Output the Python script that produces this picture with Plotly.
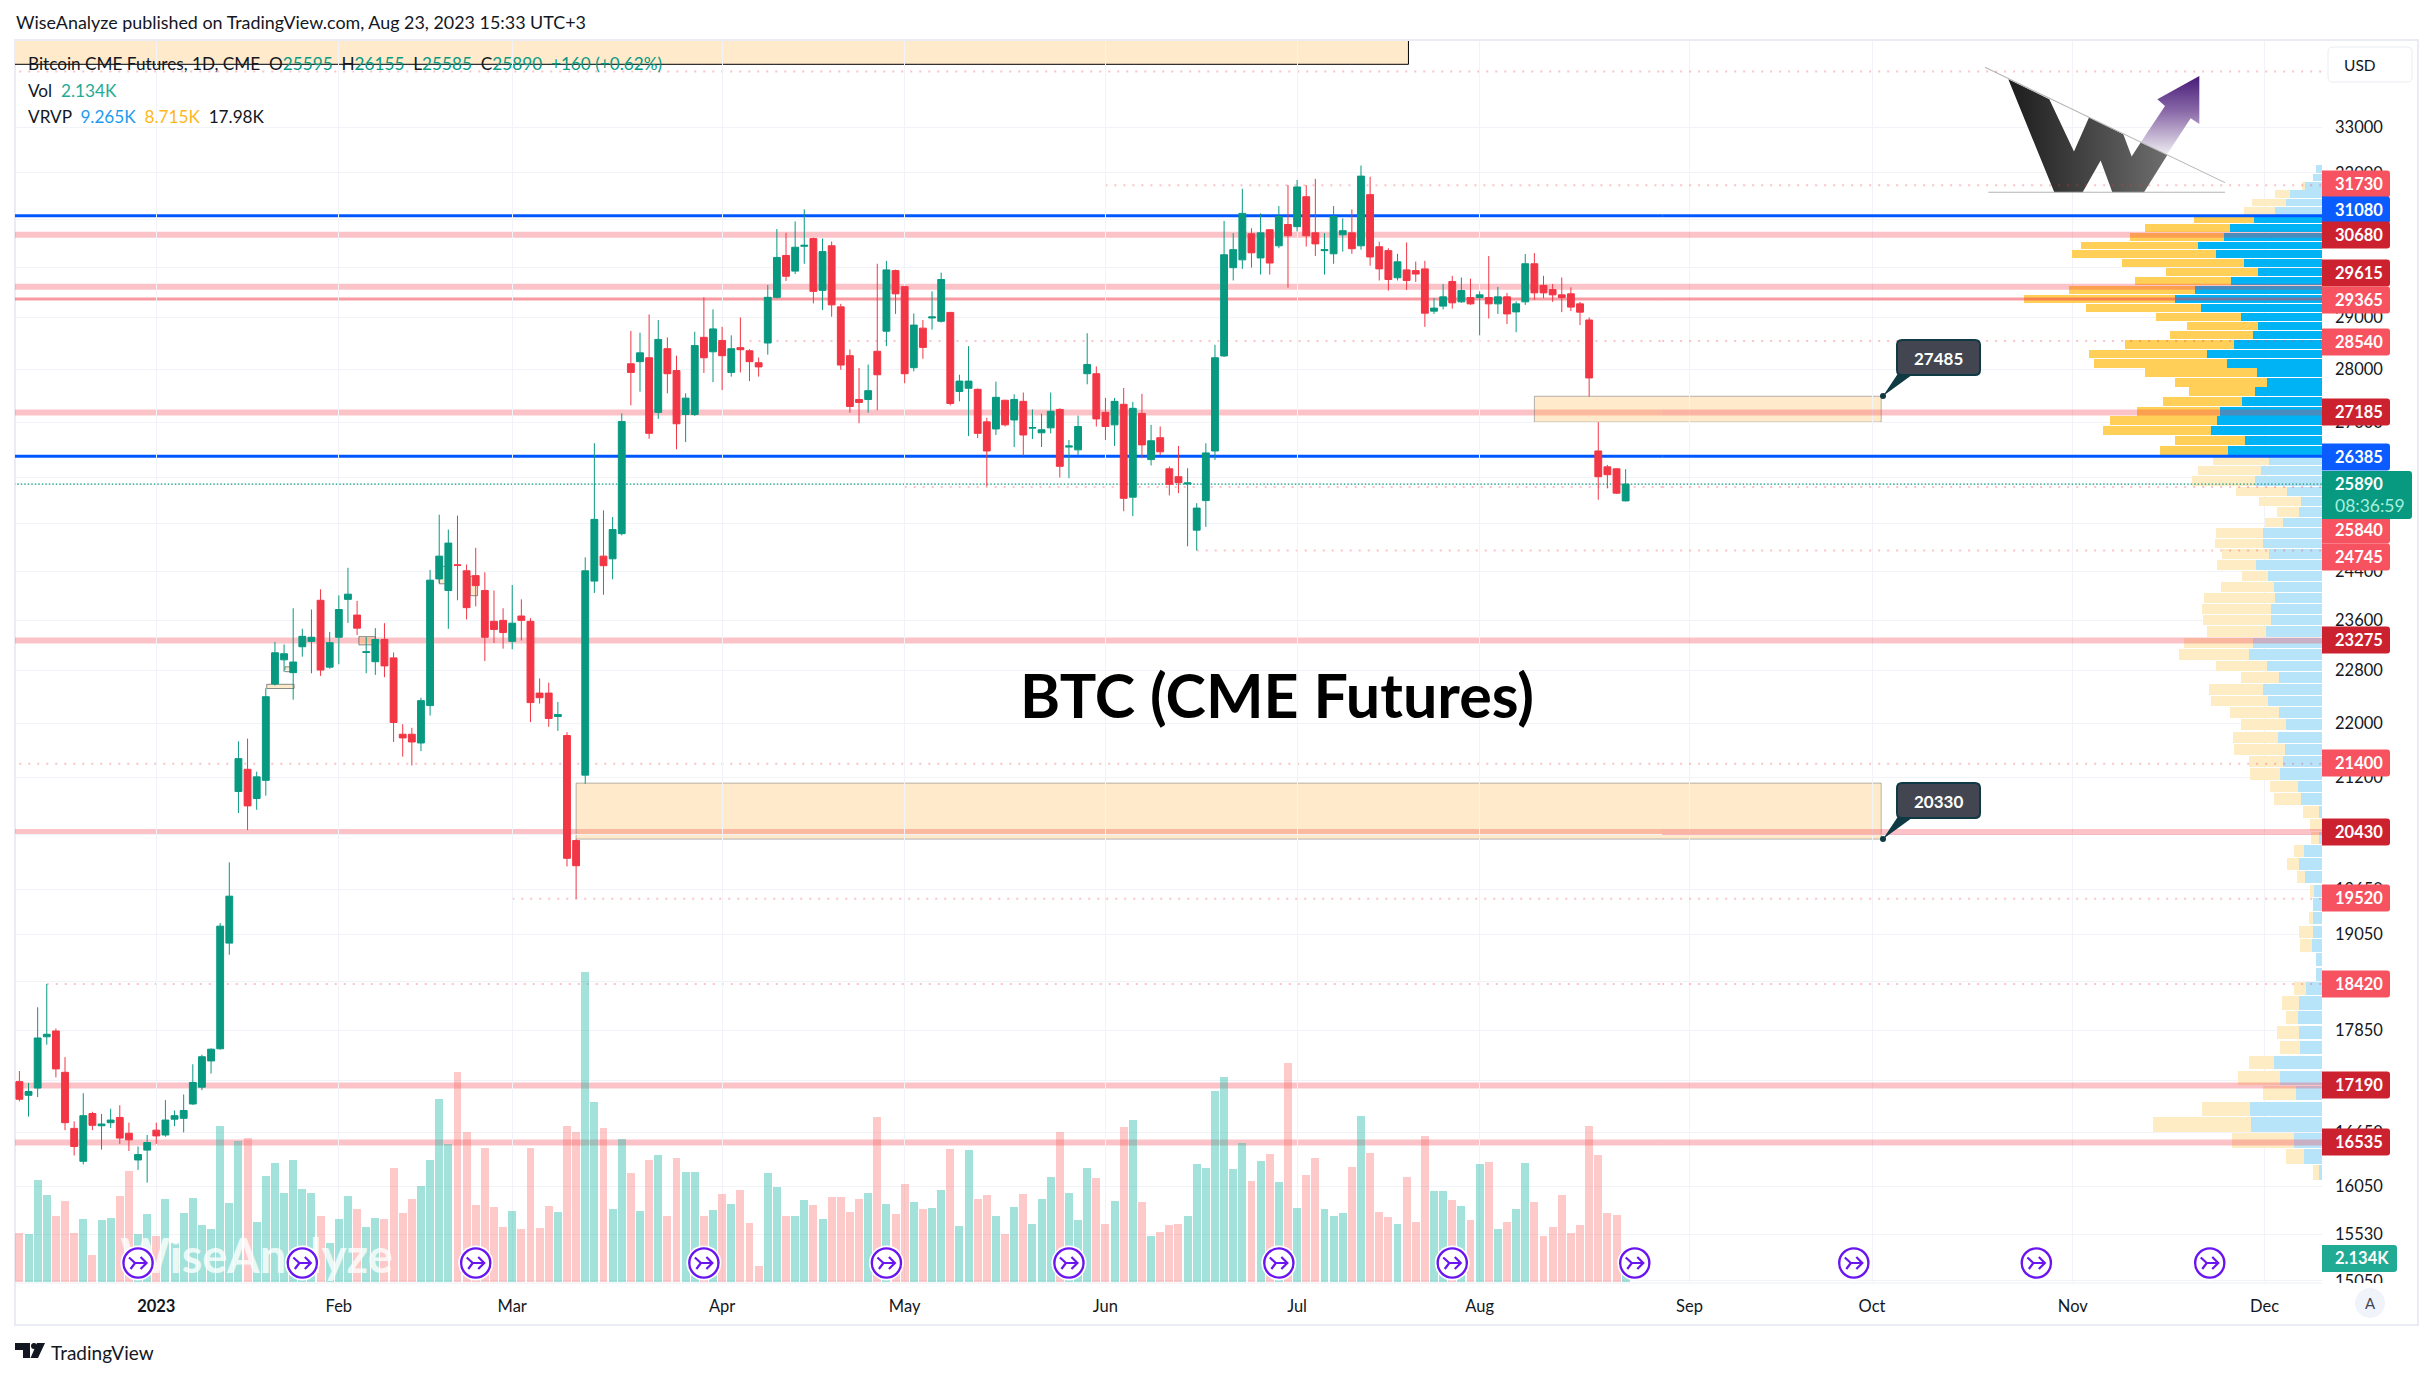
import base64
import math
import plotly.graph_objects as go

# --- chart values ---
bars_open = [17235,17075,17160,17770,17840,17345,16695,16325,16865,16725,16760,16820,16640,16340,16450,16675,16620,16800,16810,16975,17170,17480,17625,18940,21000,21320,20900,21160,22595,22970,22770,23175,23260,23920,22855,23325,23935,23680,23085,22940,23290,23000,21835,21835,21705,22265,24270,24080,24505,24405,24325,24080,23580,23595,23260,23665,23580,22455,22455,22100,21815,20310,21235,24235,24650,24605,25030,28100,28140,28215,27185,28390,27970,27145,27145,28610,28330,28550,27935,28410,28350,28120,28500,29400,30250,29930,30440,30600,29540,30450,29210,28255,27425,27425,28340,28730,29940,29615,28025,28790,28990,28925,29100,27575,27635,27615,27010,26880,27410,27045,27390,26895,26810,26900,27240,26550,26500,27910,27910,27185,26955,27335,25660,27165,26325,26720,26160,26020,25890,25090,25600,26480,28250,30000,30160,30700,30200,30785,30450,30895,30850,31485,30720,30350,30285,30680,30720,30450,31530,30430,30350,29795,29955,29940,29975,29125,29225,29720,29310,29395,29395,29395,29270,29410,29110,29310,30080,29640,29555,29450,29470,29270,28950,26480,26195,26160,25595]
bars_high = [17360,17220,18130,18420,17870,17525,16775,17100,16885,16860,16920,16960,16760,16490,16620,16760,17020,16900,17085,17440,17555,17630,19200,20010,21730,21770,21285,22530,23250,23210,23790,23460,23770,24100,23410,24000,24455,23910,23330,23470,23550,23085,21985,21930,22385,24420,25355,25100,25340,24510,24790,24380,24080,23790,24170,23935,23630,22680,22615,22320,21865,20330,24630,26620,25430,25315,27165,28735,28700,29060,28950,28610,28255,27540,28720,29400,29160,28815,28650,29000,28380,28220,29650,30800,30720,30960,31215,30620,30600,30540,29270,28375,28020,28085,30080,30140,29960,29630,29080,28950,29520,29900,29110,27890,28440,27630,27085,27760,27420,27520,27555,27240,27160,27555,27260,26680,27125,28690,28050,27455,27455,27640,27380,27530,26955,26925,26200,26570,26170,25555,26620,28465,30970,30715,31655,30815,31130,30800,31285,31735,31845,31735,31870,30715,31285,31025,31215,32160,31915,30535,30400,30285,30520,30125,30140,29385,29670,29835,29800,29775,29520,30240,29610,29490,29320,30280,30300,29835,29670,29800,29600,29310,29000,27005,26230,26170,26155]
bars_low = [17005,16830,17055,17675,17285,16675,16390,16290,16675,16455,16700,16520,16440,16230,16090,16520,16600,16720,16650,16965,17135,17330,17615,18790,20695,20455,20740,20940,22570,22785,22355,23020,22760,22720,22830,22900,23555,23360,22760,22735,22700,21720,21505,21375,21585,22115,24200,23460,23920,23610,23820,22950,23235,23145,23135,23275,22015,22295,21945,21885,19955,19520,21110,24040,24010,24265,25000,27315,27570,26700,27065,27540,26510,26640,27120,27925,27750,27600,27855,27935,27770,27855,28275,29380,29730,29870,30080,29280,29150,29015,27985,27180,26985,27180,27225,28440,29070,27730,27955,28195,28760,28900,27315,27390,26750,26715,25850,26770,26925,26550,26390,26695,26550,26800,26005,25995,26410,27710,26925,26680,26570,25415,25330,26350,26220,26405,25690,25730,24815,24745,25145,26320,28230,29740,29975,30000,29860,29860,30400,29595,30750,30435,30240,29860,30080,30330,30285,30370,30040,29740,29535,29740,29550,29710,28815,29070,29160,29175,29290,29250,28650,28980,29070,28870,28710,29250,29350,29385,29310,29105,29125,28850,27480,25615,25815,25715,25585]
bars_close = [17030,17120,17755,17800,17385,16760,16490,16840,16730,16745,16790,16585,16565,16400,16535,16610,16790,16840,16900,17225,17530,17620,19160,19555,21475,20795,21210,22400,23080,23065,22935,23340,23325,22810,23240,23770,24020,23470,23095,23290,22875,22010,21780,21720,22340,24250,24650,24870,24495,23800,24160,23325,23450,23400,23550,23595,22310,22385,22070,22130,20066,19965,24405,25275,24490,25100,27015,27935,28310,26800,28570,27910,26975,27450,28450,28215,28775,28255,28390,28370,28140,28040,29400,30210,29825,30420,30460,29520,30330,29250,28075,27295,27370,27590,27890,29955,29470,27910,28850,28415,29010,29760,27350,27770,27770,26800,26480,27465,26955,27425,26770,26905,26865,27205,26205,26570,26925,28085,27065,26925,27390,25640,27260,26590,26665,26465,25885,25915,25910,25470,26445,28215,30265,30370,31130,30305,30720,30095,31065,30660,31695,30660,30490,30370,31065,30765,30390,31930,30220,29975,29760,30120,29740,29870,29085,29185,29410,29290,29535,29270,29450,29270,29410,29070,29270,30080,29490,29490,29450,29395,29205,29105,27830,26020,26055,25730,25890]
bars_volume = [4320,4175,8900,7590,5780,7070,4320,5490,2335,5430,5580,7500,9695,4175,5930,4000,7240,3390,6015,7330,4965,4615,13635,6890,12320,12640,5255,9255,10395,7765,10660,8120,7765,5750,3445,5490,7505,6365,4790,5580,5490,9955,6015,7240,8380,10660,16000,12060,18365,13110,6715,11710,6540,4790,6190,4615,11710,4700,6630,6100,13635,13110,27155,15740,13460,6365,12500,9520,6190,10660,11095,5750,10830,9605,9605,5750,6280,7680,6800,8030,5140,1370,9520,8290,5750,5750,7155,6715,5490,7415,7415,6100,7240,7765,14425,6805,5930,8555,6980,6365,6455,8030,11620,4875,11535,7240,7590,5750,4175,6540,7680,5050,7240,9170,13110,7765,5400,9955,9080,5050,7065,13550,14160,6980,4000,4350,4965,5050,5750,10310,9955,16700,17930,9870,12150,8820,10570,11185,8730,19155,6455,9345,10835,6365,5750,6015,10045,14510,11270,6100,5665,5050,9170,5225,12760,7940,7940,7155,6630,5400,10310,10485,4615,5225,6365,10395,6980,4000,4790,7590,4265,4965,13635,11095,6075,5840,2134]

# volume profile rows, top to bottom
vrvp_price = [32082,31901,31721,31540,31360,31179,30999,30818,30638,30457,30277,30096,29916,29735,29555,29374,29194,29013,28833,28652,28472,28291,28111,27930,27750,27569,27389,27208,27028,26847,26667,26486,26306,26125,25945,25764,25584,25403,25223,25042,24862,24681,24501,24320,24140,23959,23779,23598,23418,23237,23057,22876,22696,22515,22335,22154,21974,21793,21613,21432,21252,21071,20891,20710,20530,20349,20169,19988,19808,19627,19447,19266,19086,18905,18725,18544,18364,18183,18003,17822,17642,17461,17281,17100,16920,16739,16559,16378,16198]
vrvp_up = [880,1205,2365,4450,5005,6535,9450,12790,13620,17235,14735,10840,8850,12650,17650,20430,16820,11260,8850,9590,12230,15985,13205,9035,7645,9310,11120,14180,14595,15430,10700,13065,7325,8480,9265,4865,2875,3200,5420,8200,8200,7365,9175,7505,6670,6535,7090,7090,7785,9590,10150,7645,5975,8200,7505,5975,5005,6115,5145,5420,5840,3335,2920,415,0,415,2500,3195,2365,1110,1250,1250,1250,1390,835,835,2225,3195,3335,3195,3060,6670,5840,3615,10010,9870,3890,2500,415]
vrvp_down = [0,0,370,2085,4770,4310,8340,11815,13070,16265,20015,16960,12830,13345,17515,20850,15985,11815,9870,11535,15150,16400,18485,15570,12790,9175,10980,11535,14875,15010,9730,9450,7785,8660,8715,7090,5880,3060,2460,6535,6625,6535,5420,3615,7365,9870,9590,9450,8200,9590,9690,7090,5280,7505,7925,6810,6255,6210,7045,4725,4170,3850,3755,2225,1670,1110,1390,1670,1110,555,0,555,1945,1670,0,0,1625,2365,1670,3060,2780,3475,5840,4585,6625,13620,8620,2500,835]

thick_levels = [30680, 29615, 27185, 23275, 20430, 17190, 16535]
mid_levels = [29365]
blue_levels = [31080, 26385]
dotted_levels = [34290, 31730, 28540, 25840, 24745, 21400, 19520, 18420]
dotted_start_bars = [-1, 119, 80, 97, 129, -1, 54, 3]
last_price = 25890

zones_big = [(166, 204, 27485, 27005), (61, 204, 21120, 20330)]
zones_small = [(27.1, 30.1, 22590, 22525), (29.1, 30.1, 22860, 22785), (37.2, 39, 23335, 23205), (46, 47, 24480, 24190), (49.4, 50.2, 24315, 23995)]

event_bars = [13, 31, 50, 75, 95, 115, 138, 157, 177, 201, 221, 240]
month_bars = [15, 35, 54, 77, 97, 119, 140, 160, 183, 203, 225, 246]
month_labels = ["<b>2023</b>", "Feb", "Mar", "Apr", "May", "Jun", "Jul", "Aug", "Sep", "Oct", "Nov", "Dec"]
price_ticks = [33000, 32000, 31000, 30000, 29000, 28000, 27000, 26000, 25200, 24400, 23600, 22800, 22000, 21200, 20400, 19650, 19050, 18450, 17850, 17250, 16650, 16050, 15530, 15050]

FONT = "Lato"
INK = "#131722"
GREEN = "#089981"
RED = "#F23645"
GRID = "#F1F3F8"
LEVEL_SPLIT = 180  # right of the last candle the lines run over the profile

# pane edges in page pixels
LEFT, RIGHT, TOP, BOTTOM = 15, 2322, 41, 1282


def fx(px):
    return (px - LEFT) / (RIGHT - LEFT)


def fy(py):
    return 1 - (py - TOP) / (BOTTOM - TOP)


def rrect(x0, y0, x1, y1, r, fill, line=None, lw=0, left_round=True):
    # rounded box, pixels in, paper coords out
    rl = r if left_round else 0
    p = (f"M{fx(x0 + rl)},{fy(y0)} L{fx(x1 - r)},{fy(y0)} Q{fx(x1)},{fy(y0)} {fx(x1)},{fy(y0 + r)} "
         f"L{fx(x1)},{fy(y1 - r)} Q{fx(x1)},{fy(y1)} {fx(x1 - r)},{fy(y1)} L{fx(x0 + rl)},{fy(y1)} "
         f"Q{fx(x0)},{fy(y1)} {fx(x0)},{fy(y1 - rl)} L{fx(x0)},{fy(y0 + rl)} Q{fx(x0)},{fy(y0)} {fx(x0 + rl)},{fy(y0)} Z")
    return dict(type="path", path=p, xref="paper", yref="paper", fillcolor=fill,
                line=dict(color=line or fill, width=lw), layer="above")


def poly(points, fill):
    p = "M" + " L".join(f"{fx(x)},{fy(y)}" for x, y in points) + " Z"
    return dict(type="path", path=p, xref="paper", yref="paper", fillcolor=fill, line=dict(width=0), layer="above")


def note(px, py, text, size=16, color=INK, anchor="left", family=FONT):
    return dict(x=fx(px), y=fy(py), xref="paper", yref="paper", text=text, showarrow=False,
                xanchor=anchor, yanchor="middle", font=dict(size=size, color=color, family=family))


def svg_uri(svg):
    return "data:image/svg+xml;base64," + base64.b64encode(svg.encode()).decode()


bar_index = list(range(len(bars_close)))
bar_colors = ["rgba(34,185,168,0.42)" if c >= o else "rgba(248,100,100,0.35)" for o, c in zip(bars_open, bars_close)]
in_value_area = [26400 < p < 31100 for p in vrvp_price]

fig = go.Figure()
fig.add_trace(go.Bar(x=bar_index, y=bars_volume, width=0.87, marker=dict(color=bar_colors, line=dict(width=0)),
                     xaxis="x", yaxis="y", hoverinfo="skip", showlegend=False))
fig.add_trace(go.Scatter(x=[26], y=[1810], mode="text", text=["WiseAnalyze"], textposition="middle center",
                         textfont=dict(family=FONT, size=47, color="rgba(255,255,255,0.8)", weight="bold"),
                         xaxis="x", yaxis="y", hoverinfo="skip", showlegend=False))
fig.add_trace(go.Candlestick(x=bar_index, open=bars_open, high=bars_high, low=bars_low, close=bars_close,
                             whiskerwidth=0, xaxis="x", yaxis="y2", showlegend=False, hoverinfo="skip",
                             increasing=dict(line=dict(color=GREEN, width=1), fillcolor=GREEN),
                             decreasing=dict(line=dict(color=RED, width=1), fillcolor=RED)))
fig.add_trace(go.Bar(y=vrvp_price, x=vrvp_up, orientation="h", width=165, xaxis="x2", yaxis="y2", showlegend=False,
                     hoverinfo="skip", marker=dict(color=["#00B3F4" if v else "#B8E4FA" for v in in_value_area], line=dict(width=0))))
fig.add_trace(go.Bar(y=vrvp_price, x=vrvp_down, orientation="h", width=165, xaxis="x2", yaxis="y2", showlegend=False,
                     hoverinfo="skip", marker=dict(color=["#FFCF57" if v else "#FEECC5" for v in in_value_area], line=dict(width=0))))

shapes = []


def level(price, color, width, dash="solid", start=-1):
    # candles stay over the line on the left, the line stays over the profile on the right
    base = dict(type="line", xref="x", yref="y2", y0=price, y1=price, line=dict(color=color, width=width, dash=dash))
    shapes.append(dict(base, x0=start, x1=LEVEL_SPLIT, layer="below"))
    shapes.append(dict(base, x0=LEVEL_SPLIT, x1=253, layer="above"))


for p in thick_levels:
    level(p, "rgba(242,54,69,0.3)", 6)
for p in mid_levels:
    level(p, "rgba(242,54,69,0.5)", 3)
for p in blue_levels:
    level(p, "#0059FF", 3)
for p, s in zip(dotted_levels, dotted_start_bars):
    level(p, "rgba(242,54,69,0.3)", 2, "2px,7px", s)
level(last_price, GREEN, 1.2, "1.5px,2px")

for x0, x1, p0, p1 in zones_big:
    shapes.append(dict(type="rect", xref="x", yref="y2", x0=x0, x1=x1, y0=p0, y1=p1, layer="below",
                       fillcolor="rgba(255,152,0,0.2)", line=dict(color="rgba(120,120,120,0.55)", width=1)))
for x0, x1, p0, p1 in zones_small:
    shapes.append(dict(type="rect", xref="x", yref="y2", x0=x0, x1=x1, y0=p0, y1=p1, layer="below",
                       fillcolor="rgba(255,152,0,0.2)", line=dict(color="rgba(90,90,90,0.7)", width=1)))
# beige box cut off by the top of the pane
shapes.append(dict(type="rect", xref="x", yref="y2", x0=-5, x1=152.2, y0=34456, y1=37000, layer="below",
                   fillcolor="#FFEACC", line=dict(color="#000000", width=1)))

# outer frame
shapes.append(dict(type="rect", xref="paper", yref="paper", x0=fx(15), x1=fx(2418), y0=fy(40), y1=fy(1325),
                   line=dict(color="#E9ECF2", width=2), layer="below"))
shapes.append(dict(type="line", xref="paper", yref="paper", x0=fx(15), x1=fx(2322), y0=fy(1283), y1=fy(1283),
                   line=dict(color="#EEF0F5", width=1), layer="below"))
# the lowest price tick is cut by the time scale
shapes.append(dict(type="rect", xref="paper", yref="paper", x0=fx(2323), x1=fx(2416), y0=fy(1283), y1=fy(1297),
                   fillcolor="#FFFFFF", line=dict(width=0), layer="above"))

# right hand price tags
tag_dark, tag_light, tag_blue = "#CC2230", "#F7525F", "#0A5CFF"
price_tags = [("31730", tag_light, 184), ("31080", tag_blue, 210), ("30680", tag_dark, 235), ("29615", tag_dark, 273),
              ("29365", tag_light, 300), ("28540", tag_light, 342), ("27185", tag_dark, 412), ("26385", tag_blue, 457),
              ("25840", tag_light, 530), ("24745", tag_light, 557), ("23275", tag_dark, 640), ("21400", tag_light, 763),
              ("20430", tag_dark, 832), ("19520", tag_light, 898), ("18420", tag_light, 984), ("17190", tag_dark, 1085),
              ("16535", tag_dark, 1142)]
annotations = []
for text, color, py in price_tags:
    shapes.append(rrect(2322, py - 13.5, 2390, py + 13.5, 3, color, left_round=False))
    annotations.append(note(2333, py, f"<b>{text}</b>", 16.5, "#FFFFFF"))

# last price and volume tags
shapes.append(rrect(2322, 471, 2412, 519, 3, GREEN, left_round=False))
annotations.append(note(2333, 484, "<b>25890</b>", 16.5, "#FFFFFF"))
annotations.append(note(2333, 506, "08:36:59", 17.5, "#A6EFDC"))
shapes.append(rrect(2322, 1245, 2397, 1272, 3, "#22AB94", left_round=False))
annotations.append(note(2333, 1258, "<b>2.134K</b>", 16.5, "#FFFFFF"))

# callouts on the zones
for text, dy in [("27485", 0), ("20330", 443)]:
    shapes.append(poly([(1899, 372 + dy), (1916, 372 + dy), (1883, 396 + dy)], "#0F3A44"))
    shapes.append(rrect(1897, 340 + dy, 1980, 375 + dy, 5, "#434651", "#0F3A44", 2))
    shapes.append(dict(type="circle", xref="paper", yref="paper", x0=fx(1880), x1=fx(1886), y0=fy(393 + dy), y1=fy(399 + dy),
                       fillcolor="#0F3A44", line=dict(width=0), layer="above"))
    annotations.append(note(1938, 358 + dy, f"<b>{text}</b>", 17, "#FFFFFF", "center"))

# USD button and the A button
shapes.append(rrect(2328, 47, 2412, 82, 5, "#FFFFFF", "#E9ECF2", 1))
annotations.append(note(2342, 65, "USD", 15.5))
shapes.append(dict(type="circle", xref="paper", yref="paper", x0=fx(2355), x1=fx(2385), y0=fy(1288), y1=fy(1318),
                   fillcolor="#F0F3FA", line=dict(width=0), layer="above"))
annotations.append(note(2370, 1303, "A", 15, "#434651", "center"))

# header and legend
annotations.append(note(14, 22, "WiseAnalyze published on TradingView.com, Aug 23, 2023 15:33 UTC+3", 17.9))
g = lambda s: f'<span style="color:{GREEN}">{s}</span>'
annotations.append(note(26, 64, "Bitcoin CME Futures, 1D, CME&nbsp;&nbsp;O" + g("25595") + "&nbsp;&nbsp;H" + g("26155")
                        + "&nbsp;&nbsp;L" + g("25585") + "&nbsp;&nbsp;C" + g("25890") + "&nbsp;&nbsp;" + g("+160 (+0.62%)"), 17.2))
annotations.append(note(26, 90, 'Vol&nbsp;&nbsp;<span style="color:#22AB94">2.134K</span>', 17.2))
annotations.append(note(26, 116, 'VRVP&nbsp;&nbsp;<span style="color:#1E9BF0">9.265K</span>&nbsp;&nbsp;'
                        '<span style="color:#FFB71B">8.715K</span>&nbsp;&nbsp;17.98K', 17.2))
annotations.append(note(1277, 694, "<b>BTC (CME Futures)</b>", 61, "#000000", "center"))

# TradingView mark under the chart
shapes.append(poly([(15, 1343), (30, 1343), (30, 1358), (23, 1358), (23, 1350), (15, 1350)], "#131722"))
shapes.append(dict(type="circle", xref="paper", yref="paper", x0=fx(31), x1=fx(37), y0=fy(1343), y1=fy(1349),
                   fillcolor="#131722", line=dict(width=0), layer="above"))
shapes.append(poly([(37, 1343), (45, 1343), (38, 1358), (30.5, 1358)], "#131722"))
annotations.append(note(49, 1352, "TradingView", 19))

# idea markers and the WiseAnalyze logo
icon_svg = ('<svg xmlns="http://www.w3.org/2000/svg" viewBox="0 0 36 36">'
            '<circle cx="18" cy="18" r="17.5" fill="#fff"/>'
            '<circle cx="18" cy="18" r="14.6" fill="#fff" stroke="#6A14F0" stroke-width="2.4"/>'
            '<path d="M9 12.5 L15 18 H26 M20.5 12 L26.5 18 L20.5 24 M15 18 L10.5 24" fill="none" stroke="#6A14F0" stroke-width="2.2"/></svg>')
logo_svg = ('<svg xmlns="http://www.w3.org/2000/svg" viewBox="100 190 740 400" preserveAspectRatio="none">'
            '<defs><linearGradient id="w" x1="0" y1="0" x2="1" y2="0"><stop offset="0" stop-color="#1c1c1c"/><stop offset="1" stop-color="#6e6e6e"/></linearGradient>'
            '<linearGradient id="a" x1="0" y1="0" x2="0" y2="1"><stop offset="0" stop-color="#461a78"/><stop offset="0.45" stop-color="#8a6aa8"/><stop offset="1" stop-color="#f0eef3"/></linearGradient></defs>'
            '<polygon points="748,228 748,372 722,355 650,465 572,428 645,318 622,298" fill="url(#a)"/>'
            '<polygon points="175,238 298,298 372,455 417,353 520,403 545,470 572,428 652,465 582,577 487,577 452,482 398,577 313,577" fill="url(#w)"/>'
            '<path d="M105,202 L825,548 M115,577 H825" stroke="#b5b5b5" stroke-width="3" fill="none"/></svg>')

images = [dict(source=svg_uri(icon_svg), xref="x", yref="paper", x=b, y=fy(1263), sizex=36 / 9.127, sizey=36 / (BOTTOM - TOP),
               xanchor="center", yanchor="middle", sizing="stretch", layer="above") for b in event_bars]
images.append(dict(source=svg_uri(logo_svg), xref="paper", yref="paper", x=fx(1983.3), y=fy(63.3), sizex=246.7 / (RIGHT - LEFT),
                   sizey=133.3 / (BOTTOM - TOP), xanchor="left", yanchor="top", sizing="stretch", layer="above"))

fig.update_layout(
    width=2433, height=1378, autosize=False,
    margin=dict(l=LEFT, r=2433 - RIGHT, t=TOP, b=1378 - BOTTOM, pad=0),
    paper_bgcolor="#FFFFFF", plot_bgcolor="#FFFFFF",
    barmode="stack", boxmode="group", boxgap=0.25, boxgroupgap=0,
    font=dict(family=FONT, size=16, color=INK),
    showlegend=False, hovermode=False,
    xaxis=dict(range=[-0.482, 252.3], tickmode="array", tickvals=month_bars, ticktext=month_labels, showgrid=True, gridcolor=GRID,
               gridwidth=1, zeroline=False, showline=False, ticks="", rangeslider=dict(visible=False), ticklabelstandoff=12,
               tickfont=dict(size=16.5), anchor="y"),
    xaxis2=dict(range=[320100, 0], overlaying="x", visible=False, anchor="y2", showgrid=False, zeroline=False),
    yaxis=dict(range=[0, 108600], visible=False, showgrid=False, zeroline=False),
    yaxis2=dict(type="log", range=[math.log10(15037), math.log10(35007)], overlaying="y", side="right", anchor="x", tickmode="array",
                tickvals=price_ticks, ticktext=[str(p) for p in price_ticks], showgrid=True, gridcolor=GRID, gridwidth=1,
                zeroline=False, showline=False, ticks="", ticklabelstandoff=12, tickfont=dict(size=16.5)),
    shapes=shapes, annotations=annotations, images=images,
)

fig.write_html("out.html", config=dict(displayModeBar=False), post_script="document.body.style.margin='0';")
